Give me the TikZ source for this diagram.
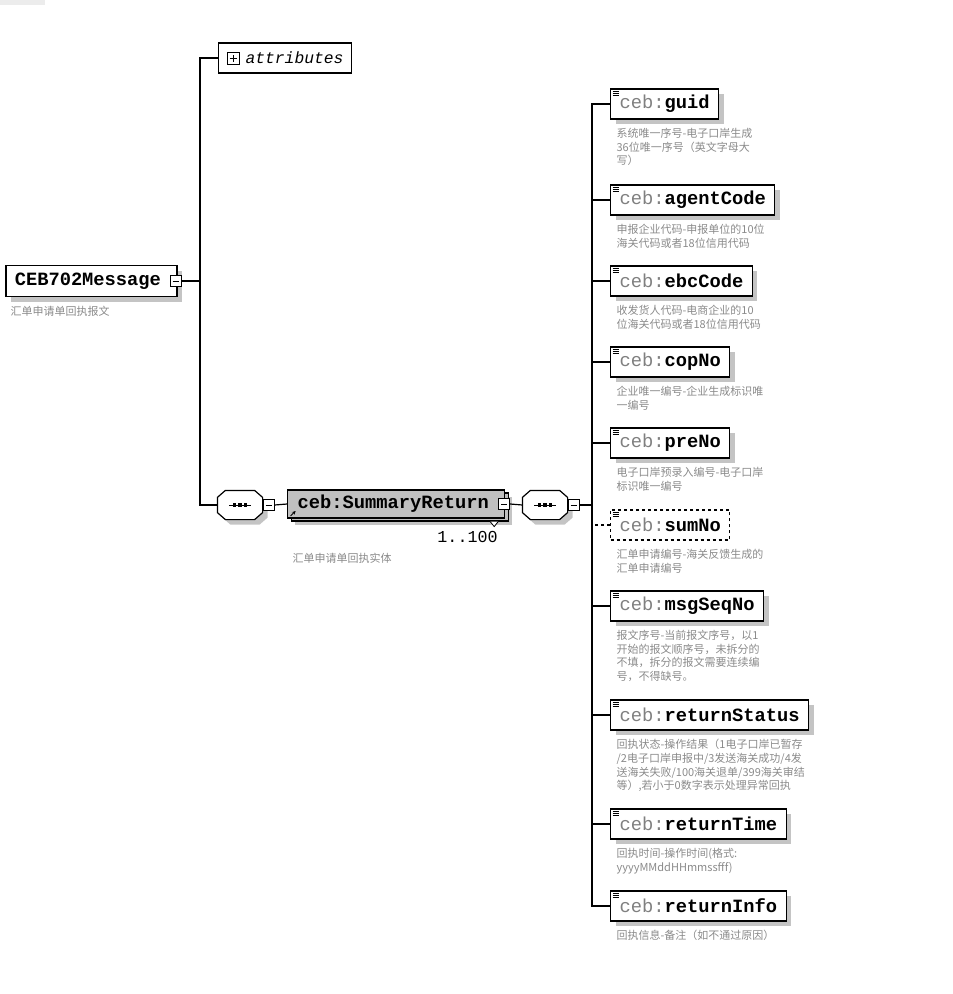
\documentclass[tikz,border=0pt]{standalone}
\usepackage{fontspec}
\setmonofont{Liberation Mono}
\newfontfamily\cjk{Noto Sans CJK SC}
\usetikzlibrary{shadows,positioning,arrows.meta}
\definecolor{cebgray}{HTML}{808080}
\definecolor{descgray}{HTML}{8A8A8A}
\definecolor{shadegray}{HTML}{C4C4C4}
\definecolor{boxgray}{HTML}{C0C0C0}
\newcommand\elemfont{\fontsize{18.75}{20}\selectfont\ttfamily}
\newcommand\descfont{\fontsize{11}{13.7}\selectfont\cjk\color{descgray}}
\newcommand\ceb[1]{{\color{cebgray}ceb:}\textbf{#1}}
% octagon of a sequence compositor, drawn over its node
\newcommand\seqdraw[1]{%
	\path[fill=shadegray,transform canvas={shift={(5pt,-5pt)}}] ([xshift=8pt]#1.north west) -- ([xshift=-8pt]#1.north east) -- ([yshift=-7pt]#1.north east) -- ([yshift=7pt]#1.south east) -- ([xshift=-8pt]#1.south east) -- ([xshift=8pt]#1.south west) -- ([yshift=7pt]#1.south west) -- ([yshift=-7pt]#1.north west) -- cycle;
	\path[draw,fill=white] ([xshift=8pt]#1.north west) -- ([xshift=-8pt]#1.north east) -- ([yshift=-7pt]#1.north east) -- ([yshift=7pt]#1.south east) -- ([xshift=-8pt]#1.south east) -- ([xshift=8pt]#1.south west) -- ([yshift=7pt]#1.south west) -- ([yshift=-7pt]#1.north west) -- cycle;
	\draw[line width=1pt] ([xshift=-11pt]#1.center) -- ([xshift=11pt]#1.center);
	\foreach \d in {-5.5,0,5.5} \fill ([xshift=\d pt-1.7pt,yshift=-1.7pt]#1.center) rectangle ([xshift=\d pt+1.7pt,yshift=1.7pt]#1.center);}

\begin{document}
\begin{tikzpicture}[x=1pt,y=-1pt,line width=1.2pt,
	shade/.style={drop shadow={shadow xshift=5pt,shadow yshift=-5pt,fill=shadegray,opacity=1}},
	elembase/.style={draw,fill=white,anchor=west,minimum height=30pt,inner xsep=9pt,inner ysep=0pt,font=\elemfont,
		path picture={\foreach \k in {2,4,6} \draw[solid,line width=0.8pt] ([xshift=2pt,yshift=-\k pt]path picture bounding box.north west) -- ++(6pt,0pt);}},
	elem/.style={shade,elembase},
	optelem/.style={elembase,dashed},
	desc/.style={anchor=north west,inner sep=0pt,align=left,font=\descfont},
	minusbox/.style={draw,fill=white,line width=1pt,minimum size=11pt,inner sep=0pt,
		path picture={\draw[line width=1pt] ([xshift=-3pt]path picture bounding box.center) -- ([xshift=3pt]path picture bounding box.center);}},
	plusbox/.style={draw,fill=white,line width=1pt,minimum size=12pt,inner sep=0pt,
		path picture={\draw[line width=1pt] ([xshift=-3.5pt]path picture bounding box.center) -- ([xshift=3.5pt]path picture bounding box.center);
			\draw[line width=1pt] ([yshift=-3.5pt]path picture bounding box.center) -- ([yshift=3.5pt]path picture bounding box.center);}},
	seqbox/.style={minimum width=44pt,minimum height=28pt,inner sep=0pt}
]
	\useasboundingbox (0,0) rectangle (953,994);
	\fill[gray!15] (0,0) rectangle (45,5);

	% root element
	\node[draw,fill=white,anchor=west,text width=153pt,inner xsep=9pt,minimum height=31pt,font=\elemfont\bfseries,line width=1.5pt,shade] (root) at (5,281) {CEB702Message};
	\node[minusbox] (rootMinus) at ([xshift=-2pt]root.east) {};
	\node[desc] (rootDesc) at ([xshift=5pt,yshift=-8pt]root.south west) {汇单申请单回执报文};
	\coordinate (fork1) at (200,281);

	% attributes
	\node[draw,fill=white,anchor=west,minimum height=30pt,inner xsep=8pt,inner ysep=0pt,font=\fontsize{16.3}{18}\selectfont\ttfamily\itshape] (attr) at (218,58) {\hspace*{19pt}attributes};
	\node[plusbox] (attrPlus) at ([xshift=15pt]attr.west) {};

	% sequence and SummaryReturn
	\node[seqbox] (seqA) at (240,505) {};
	\seqdraw{seqA}
	\node[minusbox,anchor=west] (seqAMinus) at (seqA.east) {};
	\node[draw,fill=boxgray,anchor=west,text width=197pt,inner xsep=10pt,inner ysep=0pt,minimum height=28pt,font=\elemfont\bfseries,
		drop shadow={shadow xshift=7pt,shadow yshift=-7pt,fill=shadegray,opacity=1},
		copy shadow={shadow xshift=4pt,shadow yshift=-3pt},
		path picture={\draw[-{Stealth[length=3.5pt,width=3.5pt]},line width=0.9pt] ([xshift=3pt,yshift=2pt]path picture bounding box.south west) -- ++(5pt,5pt);}] (sumRet) at (287,504) {ceb:SummaryReturn};
	\node[minusbox] (sumRetMinus) at ([xshift=-1pt]sumRet.east) {};
	\draw[line width=0.8pt,fill=white] ([xshift=-15pt,yshift=-3pt]sumRet.south east) -- ++(4pt,-5pt) -- ++(4pt,5pt);
	\node[anchor=north east,inner sep=0pt,font=\fontsize{16.7}{18}\selectfont\ttfamily] (sumRetOcc) at ([xshift=-7pt,yshift=-12pt]sumRet.south east) {1..100};
	\node[desc] (sumRetDesc) at ([xshift=5pt,yshift=-34pt]sumRet.south west) {汇单申请单回执实体};
	\node[seqbox] (seqB) at (545,505) {};
	\seqdraw{seqB}
	\node[minusbox,anchor=west] (seqBMinus) at (seqB.east) {};
	\coordinate (fork2) at (592,505);

	% child elements
	\node[elem] (guid) at (610,104) {\ceb{guid}};
	\node[elem] (agentCode) at (610,200) {\ceb{agentCode}};
	\node[elem] (ebcCode) at (610,281) {\ceb{ebcCode}};
	\node[elem] (copNo) at (610,362) {\ceb{copNo}};
	\node[elem] (preNo) at (610,443) {\ceb{preNo}};
	\node[optelem] (sumNo) at (610,525) {\ceb{sumNo}};
	\node[elem] (msgSeqNo) at (610,606) {\ceb{msgSeqNo}};
	\node[elem] (returnStatus) at (610,715) {\ceb{returnStatus}};
	\node[elem] (returnTime) at (610,824) {\ceb{returnTime}};
	\node[elem] (returnInfo) at (610,906) {\ceb{returnInfo}};

	\node[desc] (guidDesc) at ([xshift=6pt,yshift=-8pt]guid.south west) {系统唯一序号-电子口岸生成\\36位唯一序号（英文字母大\\写）};
	\node[desc] (agentCodeDesc) at ([xshift=6pt,yshift=-8pt]agentCode.south west) {申报企业代码-申报单位的10位\\海关代码或者18位信用代码};
	\node[desc] (ebcCodeDesc) at ([xshift=6pt,yshift=-8pt]ebcCode.south west) {收发货人代码-电商企业的10\\位海关代码或者18位信用代码};
	\node[desc] (copNoDesc) at ([xshift=6pt,yshift=-8pt]copNo.south west) {企业唯一编号-企业生成标识唯\\一编号};
	\node[desc] (preNoDesc) at ([xshift=6pt,yshift=-8pt]preNo.south west) {电子口岸预录入编号-电子口岸\\标识唯一编号};
	\node[desc] (sumNoDesc) at ([xshift=6pt,yshift=-8pt]sumNo.south west) {汇单申请编号-海关反馈生成的\\汇单申请编号};
	\node[desc] (msgSeqNoDesc) at ([xshift=6pt,yshift=-8pt]msgSeqNo.south west) {报文序号-当前报文序号，以1\\开始的报文顺序号，未拆分的\\不填，拆分的报文需要连续编\\号，不得缺号。};
	\node[desc] (returnStatusDesc) at ([xshift=6pt,yshift=-8pt]returnStatus.south west) {回执状态-操作结果（1电子口岸已暂存\\/2电子口岸申报中/3发送海关成功/4发\\送海关失败/100海关退单/399海关审结\\等）,若小于0数字表示处理异常回执};
	\node[desc] (returnTimeDesc) at ([xshift=6pt,yshift=-8pt]returnTime.south west) {回执时间-操作时间(格式:\\yyyyMMddHHmmssfff)};
	\node[desc] (returnInfoDesc) at ([xshift=6pt,yshift=-8pt]returnInfo.south west) {回执信息-备注（如不通过原因）};

	% connectors
	\draw (rootMinus.east) -- (fork1);
	\draw (attr.west) -| (fork1);
	\draw (seqA.west) -| (fork1);
	\draw (seqAMinus.east) -- (sumRet.west);
	\draw (sumRetMinus.east) -- (seqB.west);
	\draw (seqBMinus.east) -- (fork2);
	\foreach \n in {guid,agentCode,ebcCode,copNo,preNo,msgSeqNo,returnStatus,returnTime,returnInfo}
		\draw (\n.west) -| (fork2);
	\draw[dashed] (sumNo.west) -- (sumNo.west -| fork2);
\end{tikzpicture}
\end{document}
